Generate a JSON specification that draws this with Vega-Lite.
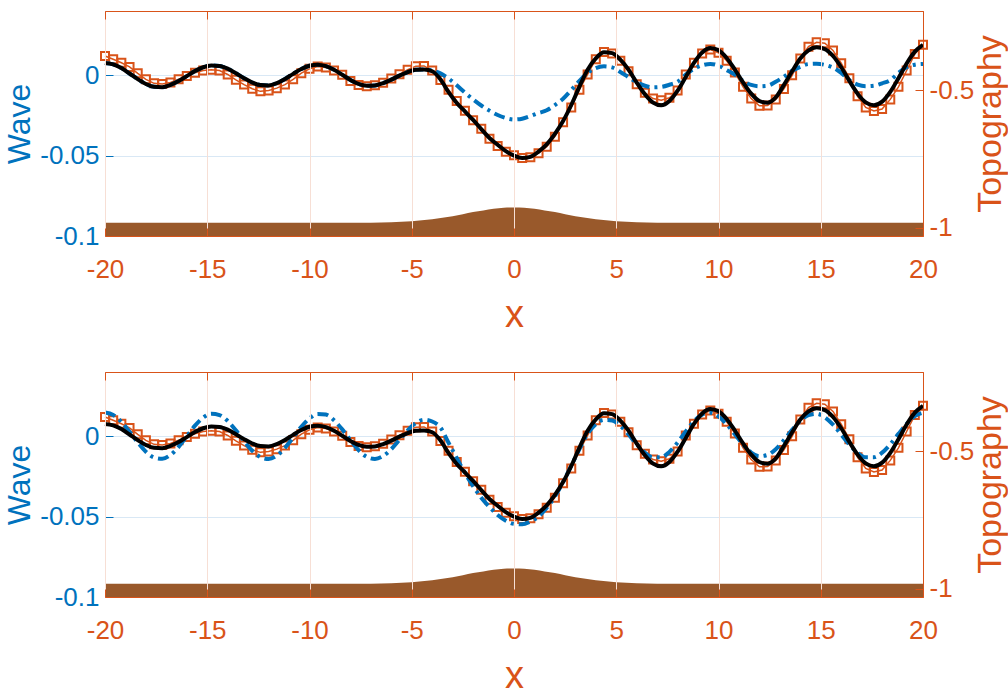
{
"$schema":"https://vega.github.io/schema/vega-lite/v6.json",
"background":"white",
"padding":{"left":3,"top":10,"right":0,"bottom":0},
"config":{"view":{"stroke":"#D95319","strokeWidth":1}},
"datasets":{
"t":[{"x":-20,"h":-0.982},{"x":-8,"h":-0.982},{"x":-7,"h":-0.9815},{"x":-6,"h":-0.980},{"x":-5,"h":-0.9765},{"x":-4.5,"h":-0.973},{"x":-4,"h":-0.969},{"x":-3.5,"h":-0.964},{"x":-3,"h":-0.958},{"x":-2.5,"h":-0.951},{"x":-2,"h":-0.943},{"x":-1.5,"h":-0.937},{"x":-1,"h":-0.931},{"x":-0.5,"h":-0.927},{"x":0,"h":-0.926},{"x":0.5,"h":-0.927},{"x":1,"h":-0.931},{"x":1.5,"h":-0.937},{"x":2,"h":-0.943},{"x":2.5,"h":-0.951},{"x":3,"h":-0.958},{"x":3.5,"h":-0.964},{"x":4,"h":-0.969},{"x":4.5,"h":-0.973},{"x":5,"h":-0.9765},{"x":6,"h":-0.980},{"x":7,"h":-0.9815},{"x":8,"h":-0.982},{"x":20,"h":-0.982}],
"w":[
{"x":-20.0,"b":0.0077,"o":0.0120,"u":0.0077,"v":0.0148},
{"x":-19.6,"b":0.0068,"o":0.0100,"u":0.0068,"v":0.0133},
{"x":-19.2,"b":0.0045,"o":0.0078,"u":0.0045,"v":0.0090},
{"x":-18.8,"b":0.0011,"o":0.0052,"u":0.0011,"v":0.0029},
{"x":-18.4,"b":-0.0024,"o":0.0012,"u":-0.0024,"v":-0.0038},
{"x":-18.0,"b":-0.0054,"o":-0.0025,"u":-0.0054,"v":-0.0096},
{"x":-17.6,"b":-0.0072,"o":-0.0050,"u":-0.0072,"v":-0.0132},
{"x":-17.2,"b":-0.0074,"o":-0.0054,"u":-0.0074,"v":-0.0140},
{"x":-16.8,"b":-0.0060,"o":-0.0045,"u":-0.0060,"v":-0.0116},
{"x":-16.4,"b":-0.0036,"o":-0.0025,"u":-0.0036,"v":-0.0066},
{"x":-16.0,"b":-0.0005,"o":-0.0004,"u":-0.0005,"v":0.0000},
{"x":-15.6,"b":0.0026,"o":0.0016,"u":0.0026,"v":0.0066},
{"x":-15.2,"b":0.0050,"o":0.0030,"u":0.0050,"v":0.0116},
{"x":-14.8,"b":0.0061,"o":0.0035,"u":0.0061,"v":0.0140},
{"x":-14.4,"b":0.0058,"o":0.0030,"u":0.0058,"v":0.0132},
{"x":-14.0,"b":0.0041,"o":0.0005,"u":0.0041,"v":0.0095},
{"x":-13.6,"b":0.0013,"o":-0.0028,"u":0.0013,"v":0.0037},
{"x":-13.2,"b":-0.0018,"o":-0.0058,"u":-0.0018,"v":-0.0030},
{"x":-12.8,"b":-0.0045,"o":-0.0084,"u":-0.0045,"v":-0.0090},
{"x":-12.4,"b":-0.0061,"o":-0.0100,"u":-0.0061,"v":-0.0129},
{"x":-12.0,"b":-0.0063,"o":-0.0095,"u":-0.0063,"v":-0.0141},
{"x":-11.6,"b":-0.0049,"o":-0.0080,"u":-0.0049,"v":-0.0120},
{"x":-11.2,"b":-0.0023,"o":-0.0058,"u":-0.0023,"v":-0.0072},
{"x":-10.8,"b":0.0009,"o":-0.0025,"u":0.0009,"v":-0.0008},
{"x":-10.4,"b":0.0039,"o":0.0013,"u":0.0039,"v":0.0059},
{"x":-10.0,"b":0.0059,"o":0.0040,"u":0.0059,"v":0.0111},
{"x":-9.6,"b":0.0066,"o":0.0055,"u":0.0066,"v":0.0139},
{"x":-9.2,"b":0.0057,"o":0.0048,"u":0.0057,"v":0.0135},
{"x":-8.8,"b":0.0034,"o":0.0030,"u":0.0034,"v":0.0100},
{"x":-8.4,"b":0.0003,"o":0.0004,"u":0.0003,"v":0.0043},
{"x":-8.0,"b":-0.0029,"o":-0.0035,"u":-0.0029,"v":-0.0024},
{"x":-7.6,"b":-0.0054,"o":-0.0060,"u":-0.0054,"v":-0.0086},
{"x":-7.2,"b":-0.0065,"o":-0.0068,"u":-0.0065,"v":-0.0128},
{"x":-6.8,"b":-0.0063,"o":-0.0062,"u":-0.0063,"v":-0.0141},
{"x":-6.4,"b":-0.0049,"o":-0.0046,"u":-0.0049,"v":-0.0123},
{"x":-6.0,"b":-0.0027,"o":-0.0020,"u":-0.0027,"v":-0.0080},
{"x":-5.6,"b":-0.0002,"o":0.0006,"u":-0.0002,"v":-0.0022},
{"x":-5.2,"b":0.0020,"o":0.0035,"u":0.0020,"v":0.0037},
{"x":-4.8,"b":0.0034,"o":0.0056,"u":0.0034,"v":0.0083},
{"x":-4.4,"b":0.0036,"o":0.0058,"u":0.0036,"v":0.0103},
{"x":-4.0,"b":0.0025,"o":0.0030,"u":0.0030,"v":0.0092},
{"x":-3.6,"b":-0.0025,"o":-0.0030,"u":0.0012,"v":0.0055},
{"x":-3.2,"b":-0.0105,"o":-0.0090,"u":-0.0020,"v":-0.0040},
{"x":-2.8,"b":-0.0172,"o":-0.0160,"u":-0.0062,"v":-0.0135},
{"x":-2.4,"b":-0.0225,"o":-0.0220,"u":-0.0108,"v":-0.0228},
{"x":-2.0,"b":-0.0278,"o":-0.0280,"u":-0.0150,"v":-0.0310},
{"x":-1.6,"b":-0.0335,"o":-0.0332,"u":-0.0188,"v":-0.0383},
{"x":-1.2,"b":-0.0390,"o":-0.0395,"u":-0.0220,"v":-0.0440},
{"x":-0.8,"b":-0.0432,"o":-0.0440,"u":-0.0247,"v":-0.0490},
{"x":-0.4,"b":-0.0472,"o":-0.0475,"u":-0.0266,"v":-0.0525},
{"x":0.0,"b":-0.0500,"o":-0.0498,"u":-0.0275,"v":-0.0545},
{"x":0.4,"b":-0.0515,"o":-0.0515,"u":-0.0270,"v":-0.0548},
{"x":0.8,"b":-0.0508,"o":-0.0510,"u":-0.0254,"v":-0.0530},
{"x":1.2,"b":-0.0475,"o":-0.0485,"u":-0.0235,"v":-0.0500},
{"x":1.6,"b":-0.0430,"o":-0.0445,"u":-0.0218,"v":-0.0445},
{"x":2.0,"b":-0.0365,"o":-0.0382,"u":-0.0185,"v":-0.0375},
{"x":2.4,"b":-0.0285,"o":-0.0292,"u":-0.0146,"v":-0.0285},
{"x":2.8,"b":-0.0185,"o":-0.0200,"u":-0.0092,"v":-0.0183},
{"x":3.2,"b":-0.0070,"o":-0.0090,"u":-0.0035,"v":-0.0080},
{"x":3.6,"b":0.0035,"o":0.0005,"u":0.0015,"v":0.0015},
{"x":4.0,"b":0.0105,"o":0.0100,"u":0.0045,"v":0.0075},
{"x":4.4,"b":0.0143,"o":0.0145,"u":0.0056,"v":0.0102},
{"x":4.8,"b":0.0138,"o":0.0135,"u":0.0049,"v":0.0098},
{"x":5.2,"b":0.0097,"o":0.0090,"u":0.0021,"v":0.0065},
{"x":5.6,"b":0.0035,"o":0.0025,"u":-0.0012,"v":0.0011},
{"x":6.0,"b":-0.0045,"o":-0.0055,"u":-0.0043,"v":-0.0049},
{"x":6.4,"b":-0.0118,"o":-0.0108,"u":-0.0065,"v":-0.0101},
{"x":6.8,"b":-0.0170,"o":-0.0145,"u":-0.0075,"v":-0.0131},
{"x":7.2,"b":-0.0187,"o":-0.0155,"u":-0.0072,"v":-0.0131},
{"x":7.6,"b":-0.0160,"o":-0.0140,"u":-0.0059,"v":-0.0097},
{"x":8.0,"b":-0.0096,"o":-0.0095,"u":-0.0040,"v":-0.0039},
{"x":8.4,"b":-0.0010,"o":0.0005,"u":0.0005,"v":0.0030},
{"x":8.8,"b":0.0077,"o":0.0078,"u":0.0040,"v":0.0093},
{"x":9.2,"b":0.0142,"o":0.0135,"u":0.0062,"v":0.0135},
{"x":9.6,"b":0.0170,"o":0.0160,"u":0.0071,"v":0.0146},
{"x":10.0,"b":0.0156,"o":0.0140,"u":0.0060,"v":0.0124},
{"x":10.4,"b":0.0108,"o":0.0090,"u":0.0032,"v":0.0075},
{"x":10.8,"b":0.0036,"o":0.0018,"u":0.0004,"v":0.0012},
{"x":11.2,"b":-0.0044,"o":-0.0072,"u":-0.0035,"v":-0.0051},
{"x":11.6,"b":-0.0114,"o":-0.0145,"u":-0.0060,"v":-0.0101},
{"x":12.0,"b":-0.0160,"o":-0.0190,"u":-0.0068,"v":-0.0124},
{"x":12.4,"b":-0.0171,"o":-0.0188,"u":-0.0065,"v":-0.0116},
{"x":12.8,"b":-0.0138,"o":-0.0150,"u":-0.0040,"v":-0.0080},
{"x":13.2,"b":-0.0060,"o":-0.0085,"u":-0.0009,"v":-0.0024},
{"x":13.6,"b":0.0025,"o":0.0000,"u":0.0028,"v":0.0040},
{"x":14.0,"b":0.0105,"o":0.0105,"u":0.0053,"v":0.0096},
{"x":14.4,"b":0.0155,"o":0.0178,"u":0.0070,"v":0.0132},
{"x":14.8,"b":0.0174,"o":0.0205,"u":0.0072,"v":0.0140},
{"x":15.2,"b":0.0163,"o":0.0200,"u":0.0065,"v":0.0118},
{"x":15.6,"b":0.0120,"o":0.0155,"u":0.0048,"v":0.0072},
{"x":16.0,"b":0.0050,"o":0.0075,"u":0.0015,"v":0.0011},
{"x":16.4,"b":-0.0035,"o":-0.0018,"u":-0.0030,"v":-0.0052},
{"x":16.8,"b":-0.0114,"o":-0.0131,"u":-0.0058,"v":-0.0103},
{"x":17.2,"b":-0.0169,"o":-0.0200,"u":-0.0068,"v":-0.0131},
{"x":17.6,"b":-0.0187,"o":-0.0222,"u":-0.0065,"v":-0.0131},
{"x":18.0,"b":-0.0164,"o":-0.0210,"u":-0.0050,"v":-0.0102},
{"x":18.4,"b":-0.0103,"o":-0.0150,"u":-0.0030,"v":-0.0050},
{"x":18.8,"b":-0.0018,"o":-0.0072,"u":0.0015,"v":0.0015},
{"x":19.2,"b":0.0073,"o":0.0030,"u":0.0050,"v":0.0077},
{"x":19.6,"b":0.0147,"o":0.0132,"u":0.0066,"v":0.0125},
{"x":20.0,"b":0.0189,"o":0.0190,"u":0.0071,"v":0.0147}
]},
"spacing":36,
"vconcat":[
{"width":818,"height":225,
 "layer":[
  {"data":{"name":"t"},"mark":{"type":"area","color":"#99592b","interpolate":"monotone"},
   "encoding":{
    "x":{"field":"x","type":"quantitative","scale":{"domain":[-20,20],"nice":false},"axis":{"values":[-20,-15,-10,-5,0,5,10,15,20],"labelExpr":"''+datum.value","labelFlush":false,"grid":true,"gridColor":"#f7dfd5","domainColor":"#D95319","tickColor":"#D95319","tickSize":-8,"labelColor":"#D95319","labelFont":"Liberation Sans, Arial, sans-serif","labelFontSize":26,"labelPadding":28,"title":"x","titleColor":"#D95319","titleFont":"Liberation Sans, Arial, sans-serif","titleFontSize":38,"titleFontWeight":"normal","titlePadding":14,"zindex":1}},
    "y":{"field":"h","type":"quantitative","scale":{"domain":[-1.03,-0.211],"nice":false,"zero":false},"axis":{"orient":"right","values":[-1,-0.5],"labelExpr":"''+datum.value","grid":false,"domainColor":"#D95319","tickColor":"#D95319","tickSize":-8,"labelColor":"#D95319","labelFont":"Liberation Sans, Arial, sans-serif","labelFontSize":26,"labelPadding":14,"title":"Topography","titleAngle":270,"titleBaseline":"top","titleColor":"#D95319","titleFont":"Liberation Sans, Arial, sans-serif","titleFontSize":34,"titleFontWeight":"normal","titlePadding":0,"zindex":1}},
    "y2":{"datum":-1.03}}},
  {"data":{"name":"w"},
   "encoding":{"x":{"field":"x","type":"quantitative","axis":{"orient":"top","values":[-20,-15,-10,-5,0,5,10,15,20],"labels":false,"title":null,"grid":false,"domainColor":"#D95319","tickColor":"#D95319","tickSize":-8,"zindex":1}}},
   "layer":[
    {"mark":{"type":"line","color":"#D95319","strokeWidth":1.5},"encoding":{"y":{"field":"o","type":"quantitative","scale":{"domain":[-0.1,0.04],"nice":false,"zero":false},"axis":{"orient":"left","values":[-0.1,-0.05,0],"labelExpr":"''+datum.value","grid":true,"gridColor":"#d9e8f5","domainColor":"#0072BD","tickColor":"#0072BD","tickSize":-8,"labelColor":"#0072BD","labelFont":"Liberation Sans, Arial, sans-serif","labelFontSize":26,"labelPadding":14,"title":"Wave","titleColor":"#0072BD","titleFont":"Liberation Sans, Arial, sans-serif","titleFontSize":32,"titleFontWeight":"normal","titlePadding":3}}}},
    {"mark":{"type":"point","shape":"square","filled":false,"color":"#D95319","size":64,"strokeWidth":2,"opacity":1},"encoding":{"y":{"field":"o","type":"quantitative"}}},
    {"mark":{"type":"line","color":"#0072BD","strokeWidth":4,"strokeDash":[11,5,3,5],"interpolate":"monotone"},"encoding":{"y":{"field":"u","type":"quantitative"}}},
    {"mark":{"type":"line","color":"#000000","strokeWidth":4,"interpolate":"monotone"},"encoding":{"y":{"field":"b","type":"quantitative"}}}
   ]}
 ],
 "resolve":{"scale":{"y":"independent"},"axis":{"x":"independent"}}},
{"width":818,"height":225,
 "layer":[
  {"data":{"name":"t"},"mark":{"type":"area","color":"#99592b","interpolate":"monotone"},
   "encoding":{
    "x":{"field":"x","type":"quantitative","scale":{"domain":[-20,20],"nice":false},"axis":{"values":[-20,-15,-10,-5,0,5,10,15,20],"labelExpr":"''+datum.value","labelFlush":false,"grid":true,"gridColor":"#f7dfd5","domainColor":"#D95319","tickColor":"#D95319","tickSize":-8,"labelColor":"#D95319","labelFont":"Liberation Sans, Arial, sans-serif","labelFontSize":26,"labelPadding":28,"title":"x","titleColor":"#D95319","titleFont":"Liberation Sans, Arial, sans-serif","titleFontSize":38,"titleFontWeight":"normal","titlePadding":14,"zindex":1}},
    "y":{"field":"h","type":"quantitative","scale":{"domain":[-1.03,-0.211],"nice":false,"zero":false},"axis":{"orient":"right","values":[-1,-0.5],"labelExpr":"''+datum.value","grid":false,"domainColor":"#D95319","tickColor":"#D95319","tickSize":-8,"labelColor":"#D95319","labelFont":"Liberation Sans, Arial, sans-serif","labelFontSize":26,"labelPadding":14,"title":"Topography","titleAngle":270,"titleBaseline":"top","titleColor":"#D95319","titleFont":"Liberation Sans, Arial, sans-serif","titleFontSize":34,"titleFontWeight":"normal","titlePadding":0,"zindex":1}},
    "y2":{"datum":-1.03}}},
  {"data":{"name":"w"},
   "encoding":{"x":{"field":"x","type":"quantitative","axis":{"orient":"top","values":[-20,-15,-10,-5,0,5,10,15,20],"labels":false,"title":null,"grid":false,"domainColor":"#D95319","tickColor":"#D95319","tickSize":-8,"zindex":1}}},
   "layer":[
    {"mark":{"type":"line","color":"#D95319","strokeWidth":1.5},"encoding":{"y":{"field":"o","type":"quantitative","scale":{"domain":[-0.1,0.04],"nice":false,"zero":false},"axis":{"orient":"left","values":[-0.1,-0.05,0],"labelExpr":"''+datum.value","grid":true,"gridColor":"#d9e8f5","domainColor":"#0072BD","tickColor":"#0072BD","tickSize":-8,"labelColor":"#0072BD","labelFont":"Liberation Sans, Arial, sans-serif","labelFontSize":26,"labelPadding":14,"title":"Wave","titleColor":"#0072BD","titleFont":"Liberation Sans, Arial, sans-serif","titleFontSize":32,"titleFontWeight":"normal","titlePadding":3}}}},
    {"mark":{"type":"point","shape":"square","filled":false,"color":"#D95319","size":64,"strokeWidth":2,"opacity":1},"encoding":{"y":{"field":"o","type":"quantitative"}}},
    {"mark":{"type":"line","color":"#0072BD","strokeWidth":4,"strokeDash":[11,5,3,5],"interpolate":"monotone"},"encoding":{"y":{"field":"v","type":"quantitative"}}},
    {"mark":{"type":"line","color":"#000000","strokeWidth":4,"interpolate":"monotone"},"encoding":{"y":{"field":"b","type":"quantitative"}}}
   ]}
 ],
 "resolve":{"scale":{"y":"independent"},"axis":{"x":"independent"}}}
]
}
